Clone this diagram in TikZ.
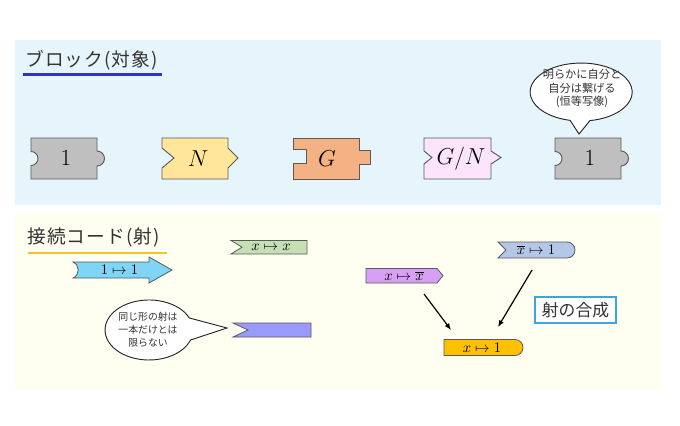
\documentclass[tikz,border=0pt]{standalone}
\usepackage{fontspec}
\newfontfamily\jp{Noto Sans CJK JP}
\newfontfamily\jpwide[LetterSpace=6]{Noto Sans CJK JP}
\usetikzlibrary{arrows.meta}
\definecolor{topbg}{HTML}{E6F4FC}
\definecolor{botbg}{HTML}{FEFEF1}
\definecolor{ulblue}{HTML}{3232C8}
\definecolor{ulgold}{HTML}{F2C230}
\definecolor{gray1}{HTML}{BFBFBF}
\definecolor{yelN}{HTML}{FFE699}
\definecolor{oraG}{HTML}{F4B183}
\definecolor{pinkGN}{HTML}{FCE4FC}
\definecolor{cyanc}{HTML}{80D4F6}
\definecolor{greenc}{HTML}{C5E0B4}
\definecolor{peric}{HTML}{9999FF}
\definecolor{purpc}{HTML}{D8A0F4}
\definecolor{steelc}{HTML}{B4C7E7}
\definecolor{orac}{HTML}{FFC000}
\definecolor{boxblue}{HTML}{3AA8DC}
\definecolor{txtgray}{HTML}{333333}
\definecolor{edge}{HTML}{5A5A5A}
\begin{document}
\begin{tikzpicture}[x=0.75pt,y=-0.75pt,
  blk/.style={draw=edge, line width=0.7pt},
  conn/.style={draw=edge, line width=0.6pt},
  callout/.style={draw=black!85, line width=0.7pt, fill=white},
  bigmath/.style={font=\fontsize{17}{20}\selectfont, inner sep=0pt},
  cmath/.style={font=\fontsize{11}{13}\selectfont, inner sep=0pt},
  jtitle/.style={font=\jpwide\fontsize{14}{16}\selectfont, text=txtgray, anchor=west, inner sep=0pt},
  jsmall/.style={font=\jp\fontsize{8.4}{10.2}\selectfont, text=txtgray, align=center, inner sep=0pt},
  jsmaller/.style={font=\jp\fontsize{7.4}{9.8}\selectfont, text=txtgray, align=center, inner sep=0pt},
  arr/.style={-{Latex[length=5pt,width=4pt]}, line width=0.9pt, black}
]
\useasboundingbox (0,0) rectangle (680,425);
\fill[white] (0,0) rectangle (680,425);
\fill[topbg] (15,40) rectangle (661,205);
\fill[botbg] (15,213) rectangle (661,390);

% ---- top panel
\node[jtitle] (t1) at (25,60) {ブロック(対象)};
\draw[ulblue, line width=1.6pt] (23,74.5) -- (162,74.5);

% block 1 (gray, left)
\filldraw[blk, fill=gray1] (31,138) -- (97,138) -- (97,151) arc[start angle=-90,end angle=90,radius=7.5]
  -- (97,179) -- (31,179) -- (31,165.5) arc[start angle=90,end angle=-90,radius=7] -- cycle;
\node[bigmath] (b1) at (66,158.5) {$1$};

% block N
\filldraw[blk, fill=yelN] (162,138) -- (228,138) -- (228,148) -- (238,158) -- (228,168) -- (228,179)
  -- (162,179) -- (162,168) -- (174,158) -- (162,148) -- cycle;
\node[bigmath] (bN) at (198,158.5) {$N$};

% block G
\filldraw[blk, fill=oraG] (293,138) -- (359,138) -- (359,150) -- (370,150) -- (370,164) -- (359,164)
  -- (359,179) -- (293,179) -- (293,163) -- (306,163) -- (306,149) -- (293,149) -- cycle;
\node[bigmath] (bG) at (327,158.5) {$G$};

% block G/N
\filldraw[blk, fill=pinkGN] (424,138) -- (491,138) -- (491,151) -- (501,157.5) -- (491,164) -- (491,179)
  -- (424,179) -- (424,164) -- (432,157.5) -- (424,151) -- cycle;
\node[bigmath] (bGN) at (461,158.5) {$G/N$};

% block 1 (gray, right)
\filldraw[blk, fill=gray1] (555,138) -- (621,138) -- (621,151) arc[start angle=-90,end angle=90,radius=7.5]
  -- (621,179) -- (555,179) -- (555,165.5) arc[start angle=90,end angle=-90,radius=7] -- cycle;
\node[bigmath] (b1r) at (590,158.5) {$1$};

% callout top
\filldraw[callout] (590,120.6) arc[start angle=80,end angle=-257.5,x radius=51,y radius=29] -- (579,134) -- cycle;
\node[jsmall] (c1) at (582,88.5) {明らかに自分と\\自分は繋げる\\(恒等写像)};

% ---- bottom panel
\node[jtitle] (t2) at (27,237) {接続コード(射)};
\draw[ulgold, line width=1.6pt] (28,253) -- (167,253);

% cyan arrow 1->1
\filldraw[conn, fill=cyanc] (73,262) -- (149,262) -- (149,257) -- (172,270) -- (149,283) -- (149,278)
  -- (73,278) .. controls (80,275) and (80,265) .. (73,262) -- cycle;
\node[cmath] (k1) at (119.5,270) {$1\mapsto 1$};

% green x->x
\filldraw[conn, fill=greenc] (231,240.5) -- (307,240.5) -- (307,254) -- (231,254) -- (242,247.2) -- cycle;
\node[cmath] (k2) at (271,247.5) {$x\mapsto x$};

% periwinkle
\filldraw[conn, fill=peric] (233,323) -- (311,323) -- (311,337) -- (233,337) -- (248,330) -- cycle;
\coordinate (k3) at (272,330);

% callout bottom
\filldraw[callout] (190.5,340) arc[start angle=19.5,end angle=336.4,x radius=44,y radius=30] -- (227,328) -- cycle;
\node[jsmaller] (c2) at (148,330) {同じ形の射は\\一本だけとは\\限らない};

% purple x->xbar
\filldraw[conn, fill=purpc] (366,268.5) -- (437,268.5) -- (443,275.7) -- (437,283) -- (366,283) -- cycle;
\node[cmath] (k4) at (404,276) {$x\mapsto \overline{x}$};

% steel xbar->1
\filldraw[conn, fill=steelc] (498,242) -- (567,242) arc[start angle=-90,end angle=90,radius=8]
  -- (498,258) -- (506,250) -- cycle;
\node[cmath] (k5) at (536,250) {$\overline{x}\mapsto 1$};

% orange x->1
\filldraw[conn, fill=orac] (444,339.5) -- (515,339.5) arc[start angle=-90,end angle=90,radius=8]
  -- (444,355.5) -- cycle;
\node[cmath] (k6) at (482,347.5) {$x\mapsto 1$};

% composition arrows
\coordinate (a1s) at (424,294);
\coordinate (a1e) at (451,330);
\coordinate (a2s) at (532,270);
\coordinate (a2e) at (498,327);
\draw[arr] (a1s) -- (a1e);
\draw[arr] (a2s) -- (a2e);

% label box
\node[draw=boxblue, line width=1.4pt, fill=white, minimum width=60.75pt, minimum height=19.5pt,
  font=\jp\fontsize{12.6}{14}\selectfont, text=txtgray, inner sep=0pt] (comp) at (575.5,310) {射の合成};
\end{tikzpicture}
\end{document}
